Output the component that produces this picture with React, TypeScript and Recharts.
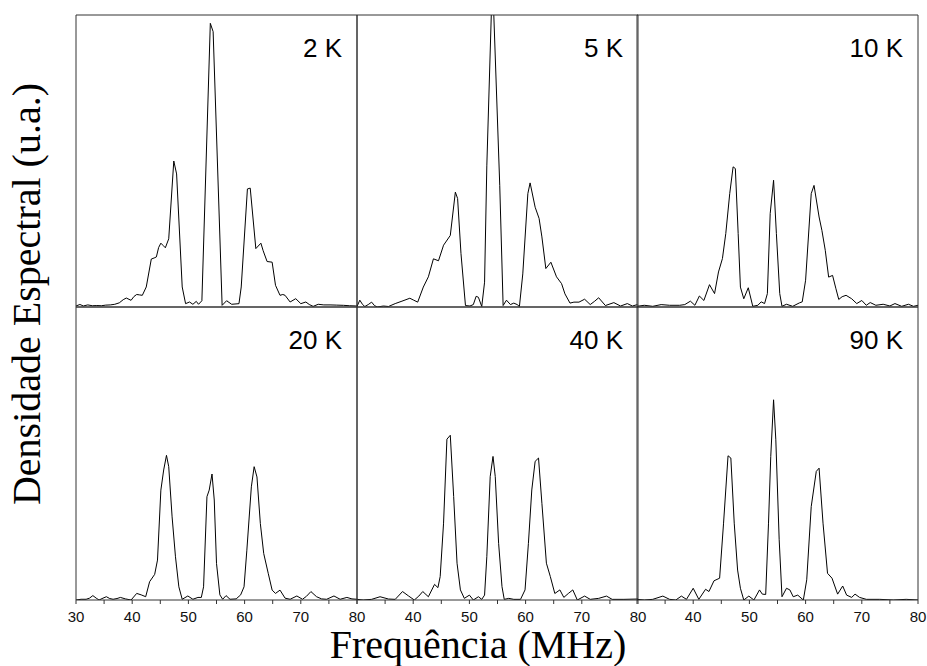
import React from "react";
import { LineChart, Line, XAxis, YAxis } from "recharts";

type Pt = [number, number];

const temps = ["2 K", "5 K", "10 K", "20 K", "40 K", "90 K"];
const xTicks = [30, 35, 40, 45, 50, 55, 60, 65, 70, 75, 80];
// top of each panel's y range (arbitrary units, one minor tick per unit)
const yMax = [14, 6, 8.5, 8, 9, 9];

const spec2K: Pt[] = [
  [30, 0.05], [30.7, 0.12], [31.3, 0.05], [32.1, 0.1], [32.9, 0.06], [33.7, 0.07], [34.5, 0.06],
  [35.3, 0.09], [36.1, 0.1], [36.9, 0.13], [37.7, 0.2], [38.4, 0.35], [38.95, 0.43], [39.8, 0.32],
  [40.3, 0.5], [40.8, 0.6], [41.3, 0.58], [41.8, 0.56], [42.5, 0.96], [43.4, 2.3], [43.9, 2.35],
  [44.3, 2.4], [44.7, 2.85], [45.1, 3.06], [45.5, 2.95], [45.9, 2.84], [46.5, 3.27], [47.4, 7.0],
  [47.9, 6.38], [48.9, 0.96], [49.5, 0.16], [50.2, 0.24], [50.8, 0.13], [51.4, 0.27], [51.8, 0.13],
  [52.4, 0.3], [53.9, 13.6], [54.4, 13.2], [56.0, 0.08], [56.8, 0.3], [57.7, 0.13], [59.0, 0.16],
  [59.4, 0.96], [60.5, 5.66], [61.0, 5.7], [62.0, 2.8], [62.9, 3.06], [63.3, 2.7], [64.0, 2.18],
  [64.9, 2.15], [65.5, 1.04], [66.3, 0.56], [66.8, 0.6], [67.2, 0.56], [68.1, 0.24], [69.1, 0.4],
  [70.0, 0.16], [70.9, 0.24], [71.5, 0.12], [72.2, 0.03], [73.1, 0.13], [74.1, 0.1], [75.2, 0.1],
  [76.4, 0.09], [77.6, 0.08], [78.7, 0.06], [79.8, 0.05], [80, 0.05],
];

const spec5K: Pt[] = [
  [30, 0.01], [30.5, 0.14], [31.0, 0.05], [31.4, 0.01], [32.0, 0.05], [32.6, 0.1], [33.1, 0.03],
  [33.6, 0.0], [34.7, 0.02], [35.6, 0.01], [36.8, 0.07], [38.0, 0.12], [39.4, 0.18], [40.1, 0.14],
  [40.8, 0.1], [41.8, 0.41], [42.7, 0.62], [43.6, 0.99], [44.5, 0.95], [45.4, 1.27], [46.6, 1.47],
  [47.5, 2.36], [47.9, 2.23], [48.5, 1.1], [49.3, 0.03], [50.1, 0.02], [50.7, 0.05], [51.2, 0.22],
  [51.6, 0.2], [52.2, 0.01], [52.7, 0.51], [53.1, 2.9], [54.1, 6.8], [55.4, 2.5], [56.0, 0.03],
  [56.6, 0.14], [57.3, 0.05], [57.9, 0.08], [58.5, 0.05], [58.9, 0.01], [59.5, 0.68], [60.4, 2.33],
  [60.8, 2.55], [61.7, 2.05], [62.4, 1.82], [62.9, 1.44], [63.6, 0.79], [64.5, 0.92], [65.5, 0.62],
  [66.4, 0.48], [67.0, 0.27], [67.9, 0.08], [68.6, 0.1], [69.5, 0.1], [70.5, 0.16], [71.5, 0.05],
  [72.3, 0.12], [73.0, 0.19], [74.2, 0.03], [75.7, 0.09], [76.9, 0.02], [78.1, 0.07], [79.0, 0.02],
  [79.9, 0.05],
];

const spec10K: Pt[] = [
  [30, 0.02], [31.3, 0.05], [32.8, 0.02], [34.3, 0.07], [35.8, 0.05], [37.6, 0.05], [38.5, 0.07],
  [39.5, 0.17], [40.3, 0.05], [41.1, 0.32], [41.9, 0.19], [42.9, 0.65], [43.8, 0.39], [44.5, 1.02],
  [45.2, 1.41], [45.8, 2.14], [46.5, 3.3], [47.1, 4.08], [47.5, 4.03], [48.0, 2.14], [48.4, 0.58],
  [49.0, 0.24], [49.8, 0.56], [50.6, 0.02], [51.5, 0.05], [52.1, 0.15], [52.7, 0.1], [53.2, 0.39],
  [53.7, 2.72], [54.3, 3.69], [54.8, 2.14], [55.4, 0.39], [55.8, 0.02], [56.6, 0.08], [57.7, 0.02],
  [58.9, 0.12], [59.4, 0.15], [60.0, 0.78], [61.0, 3.3], [61.5, 3.54], [62.4, 2.62], [62.9, 2.23],
  [63.5, 1.65], [64.1, 0.87], [64.8, 0.92], [65.4, 0.53], [65.9, 0.22], [66.5, 0.3], [67.2, 0.34],
  [68.2, 0.24], [69.1, 0.1], [70.0, 0.19], [70.8, 0.05], [71.5, 0.13], [72.5, 0.05], [73.8, 0.08],
  [75.0, 0.03], [75.9, 0.1], [77.1, 0.02], [78.3, 0.08], [79.2, 0.02], [80, 0.05],
];

const spec20K: Pt[] = [
  [30, 0], [30.9, 0.02], [31.8, 0.02], [32.4, 0.05], [33.0, 0.12], [33.6, 0.05], [34.1, 0],
  [34.8, 0.05], [35.4, 0.09], [36.0, 0.04], [36.6, 0.02], [37.3, 0.04], [37.9, 0.07], [38.8, 0.03],
  [39.8, 0], [40.8, 0.18], [41.6, 0.14], [42.4, 0.09], [43.1, 0.5], [44.0, 0.7], [44.5, 1.09],
  [45.1, 3.0], [45.6, 3.55], [46.1, 3.95], [46.5, 3.64], [47.1, 2.27], [47.7, 1.18], [48.3, 0.36],
  [48.9, 0.02], [49.9, 0.11], [50.8, 0.02], [51.7, 0.07], [52.3, 0.07], [52.7, 0.36], [53.3, 2.82],
  [53.7, 3.0], [54.2, 3.44], [54.6, 2.73], [55.0, 1.0], [55.6, 0.14], [56.1, 0.02], [56.7, 0.12],
  [57.4, 0.02], [58.5, 0.03], [59.3, 0.14], [59.9, 0.36], [60.4, 1.36], [61.2, 3.09], [61.7, 3.64],
  [62.2, 3.36], [62.8, 2.09], [63.4, 1.27], [64.2, 0.73], [64.9, 0.27], [65.5, 0.18], [66.3, 0.27],
  [67.2, 0.05], [68.1, 0.02], [69.3, 0.11], [70.3, 0.02], [71.0, 0.1], [71.8, 0.23], [72.8, 0.09],
  [73.7, 0.03], [74.6, 0.02], [75.9, 0.11], [77.0, 0.02], [78.2, 0.07], [79.1, 0.03], [80, 0.02],
];

const spec40K: Pt[] = [
  [30, 0.02], [31.1, 0], [32.6, 0.02], [34.1, 0.1], [35.6, 0.03], [36.8, 0.02], [38.1, 0.26],
  [39.2, 0.12], [40.2, 0], [41.0, 0.12], [41.7, 0.26], [42.7, 0.1], [43.8, 0.48], [44.4, 0.38],
  [44.8, 0.72], [45.4, 2.36], [46.0, 4.94], [46.6, 5.06], [47.2, 3.18], [47.8, 1.13], [48.4, 0.31],
  [49.1, 0.05], [50.0, 0.15], [50.7, 0], [51.6, 0.1], [52.2, 0.02], [52.7, 0.15], [53.1, 1.33],
  [53.7, 3.79], [54.2, 4.41], [54.6, 3.79], [55.2, 1.74], [55.8, 0.41], [56.2, 0.02], [57.0, 0.05],
  [57.9, 0.02], [59.1, 0.02], [59.9, 0.31], [60.5, 1.74], [61.1, 3.38], [61.7, 4.26], [62.3, 4.36],
  [62.9, 2.97], [63.7, 1.13], [64.4, 0.72], [65.2, 0.2], [66.1, 0.31], [66.8, 0.08], [67.6, 0.2],
  [68.4, 0.31], [69.2, 0], [70.5, 0.12], [71.5, 0.02], [73.0, 0.05], [74.4, 0.12], [75.4, 0.02],
  [77.5, 0.02], [80, 0.03],
];

const spec90K: Pt[] = [
  [30, 0.02], [31.3, 0], [32.8, 0.02], [34.6, 0.12], [35.8, 0.02], [36.9, 0], [37.9, 0.12],
  [38.8, 0.02], [40.0, 0.36], [41.0, 0.02], [42.2, 0.33], [42.8, 0.26], [43.7, 0.59], [44.7, 0.67],
  [45.4, 2.36], [46.2, 4.43], [46.7, 4.36], [47.3, 2.36], [47.9, 0.92], [48.4, 0.36], [49.0, 0],
  [49.9, 0.12], [50.8, 0], [51.8, 0.31], [52.3, 0.18], [52.9, 0.17], [53.4, 2.36], [53.8, 4.41],
  [54.3, 6.15], [54.7, 4.92], [55.3, 1.85], [55.8, 0.1], [56.6, 0.36], [57.2, 0.31], [57.8, 0.1],
  [58.6, 0.15], [59.6, 0], [60.2, 0.62], [61.0, 2.87], [61.9, 3.95], [62.4, 4.05], [63.1, 2.36],
  [63.9, 0.82], [64.7, 0.67], [65.7, 0.18], [66.6, 0.43], [67.3, 0.15], [68.2, 0.08], [68.8, 0.18],
  [69.6, 0.08], [70.8, 0.02], [73.2, 0.02], [75.6, 0], [77.9, 0.02], [80, 0],
];

const spectra = [spec2K, spec5K, spec10K, spec20K, spec40K, spec90K];

// layout
const colX = [76, 357, 637];
const colW = 281;
const rowY = [15, 307];
const rowH = [292, 293];
const PAD = 30;
const AXIS = "#333";
const SANS = "'Liberation Sans', Arial, sans-serif";
const SERIF = "'Liberation Serif', 'Times New Roman', serif";

// labels every 10 MHz; the shared 30/80 corner only shows the left panel's "80"
const makeXLabel = (firstCol: boolean) => (props: any) => {
  const { x, y, payload } = props;
  const v = payload.value;
  if (v % 10 !== 0 || (!firstCol && v === 30)) return <g />;
  return (
    <text x={x} y={y} dy="0.71em" textAnchor="middle" fontSize={15} fontFamily={SANS} fill="#111">
      {v}
    </text>
  );
};

interface PanelProps {
  idx: number;
}

const Panel = ({ idx }: PanelProps) => {
  const col = idx % 3;
  const row = Math.floor(idx / 3);
  const w = colW;
  const h = rowH[row];
  const max = yMax[idx];
  const yTicks = Array.from({ length: Math.ceil(max) - 1 }, (_, i) => i + 1);
  const data = spectra[idx].map(([x, y]) => ({ x, y }));
  const bottomRow = row === 1;
  const lastCol = col === 2;

  return (
    <div style={{ position: "absolute", left: colX[col] - PAD, top: rowY[row] - PAD }}>
      <LineChart
        width={w + 2 * PAD}
        height={h + 2 * PAD}
        data={data}
        margin={{ top: PAD, left: PAD, right: lastCol ? 0 : PAD, bottom: 0 }}
      >
        <XAxis
          xAxisId="b"
          dataKey="x"
          type="number"
          domain={[30, 80]}
          ticks={xTicks}
          height={PAD}
          stroke={AXIS}
          tickSize={4}
          tickMargin={7}
          tick={bottomRow ? makeXLabel(col === 0) : false}
          allowDataOverflow
        />
        <XAxis
          xAxisId="t"
          orientation="top"
          mirror
          dataKey="x"
          type="number"
          domain={[30, 80]}
          ticks={xTicks}
          height={PAD}
          stroke={AXIS}
          tickSize={4}
          tick={false}
        />
        <YAxis
          yAxisId="l"
          mirror
          type="number"
          domain={[0, max]}
          ticks={yTicks}
          width={PAD}
          stroke={AXIS}
          tickSize={4}
          tick={false}
          allowDataOverflow
        />
        <YAxis
          yAxisId="r"
          orientation="right"
          mirror={!lastCol}
          type="number"
          domain={[0, max]}
          ticks={yTicks}
          width={PAD}
          stroke={AXIS}
          tickSize={4}
          tickLine={lastCol}
          tick={false}
        />
        <Line
          xAxisId="b"
          yAxisId="l"
          dataKey="y"
          type="linear"
          stroke="#000"
          strokeWidth={1}
          dot={false}
          isAnimationActive={false}
        />
      </LineChart>
      <div
        style={{
          position: "absolute",
          right: PAD + 15,
          top: PAD + 20,
          fontFamily: SANS,
          fontSize: 26,
          lineHeight: "26px",
          color: "#000",
          whiteSpace: "nowrap",
        }}
      >
        {temps[idx]}
      </div>
    </div>
  );
};

export default function App() {
  return (
    <div style={{ position: "absolute", left: 0, top: 0, width: 927, height: 666, background: "#fff" }}>
      {temps.map((_, i) => (
        <Panel key={i} idx={i} />
      ))}
      <svg
        width={927}
        height={666}
        style={{ position: "absolute", left: 0, top: 0, pointerEvents: "none" }}
      >
        <text
          x={40}
          y={294}
          transform="rotate(-90 40 294)"
          textAnchor="middle"
          fontFamily={SERIF}
          fontSize={40}
          fill="#000"
        >
          Densidade Espectral (u.a.)
        </text>
        <text x={478} y={658} textAnchor="middle" fontFamily={SERIF} fontSize={40} fill="#000">
          Frequência (MHz)
        </text>
      </svg>
    </div>
  );
}
